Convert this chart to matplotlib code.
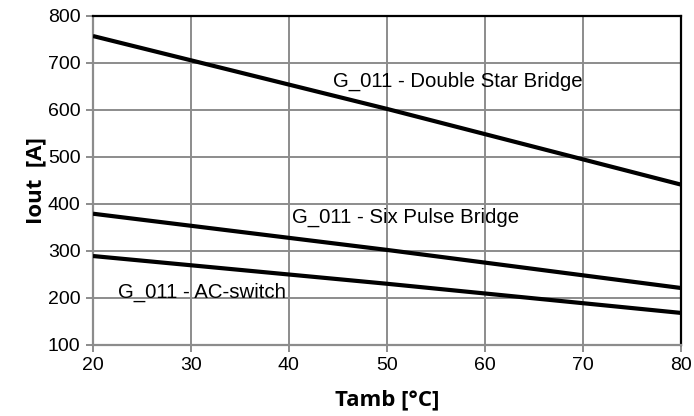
import matplotlib.pyplot as plt

plt.rcParams['font.family'] = ['Liberation Sans', 'DejaVu Sans']

tamb = [20, 50, 80]
double_star = [757, 602, 441]
six_pulse = [379, 302, 221]
ac_switch = [289, 230, 168]

fig, ax = plt.subplots(figsize=(6.94, 4.16), dpi=100)
fig.subplots_adjust(left=0.134, right=0.981, top=0.962, bottom=0.171)

for y in (double_star, six_pulse, ac_switch):
    ax.plot(tamb, y, color='black', lw=3, solid_capstyle='butt', zorder=3)

ax.set_xlim(20, 80)
ax.set_ylim(100, 800)
ax.set_xticks(range(20, 81, 10))
ax.set_yticks(range(100, 801, 100))
ax.grid(True, color='#8c8c8c', lw=1.4)
ax.tick_params(direction='out', length=5, color='#8c8c8c', labelsize=14, width=1.4, pad=4)
for s in ('left', 'bottom'):
    ax.spines[s].set_color('#8c8c8c')
    ax.spines[s].set_linewidth(1.6)
for s in ('top', 'right'):
    ax.spines[s].set_color('black')
    ax.spines[s].set_linewidth(1.6)

ax.set_xlabel('Tamb [°C]', fontsize=16, fontweight='bold', family=['Open Sans', 'DejaVu Sans'], labelpad=11)
ax.set_ylabel('Iout  [A]', fontsize=16, fontweight='bold', family=['Open Sans', 'DejaVu Sans'], labelpad=1)

ax.text(44.5, 660, 'G_011 - Double Star Bridge', fontsize=14.7, va='center', ha='left')
ax.text(40.3, 372, 'G_011 - Six Pulse Bridge', fontsize=14.7, va='center', ha='left')
ax.text(22.6, 211, 'G_011 - AC-switch', fontsize=14.7, va='center', ha='left')

fig.savefig('out.png')
